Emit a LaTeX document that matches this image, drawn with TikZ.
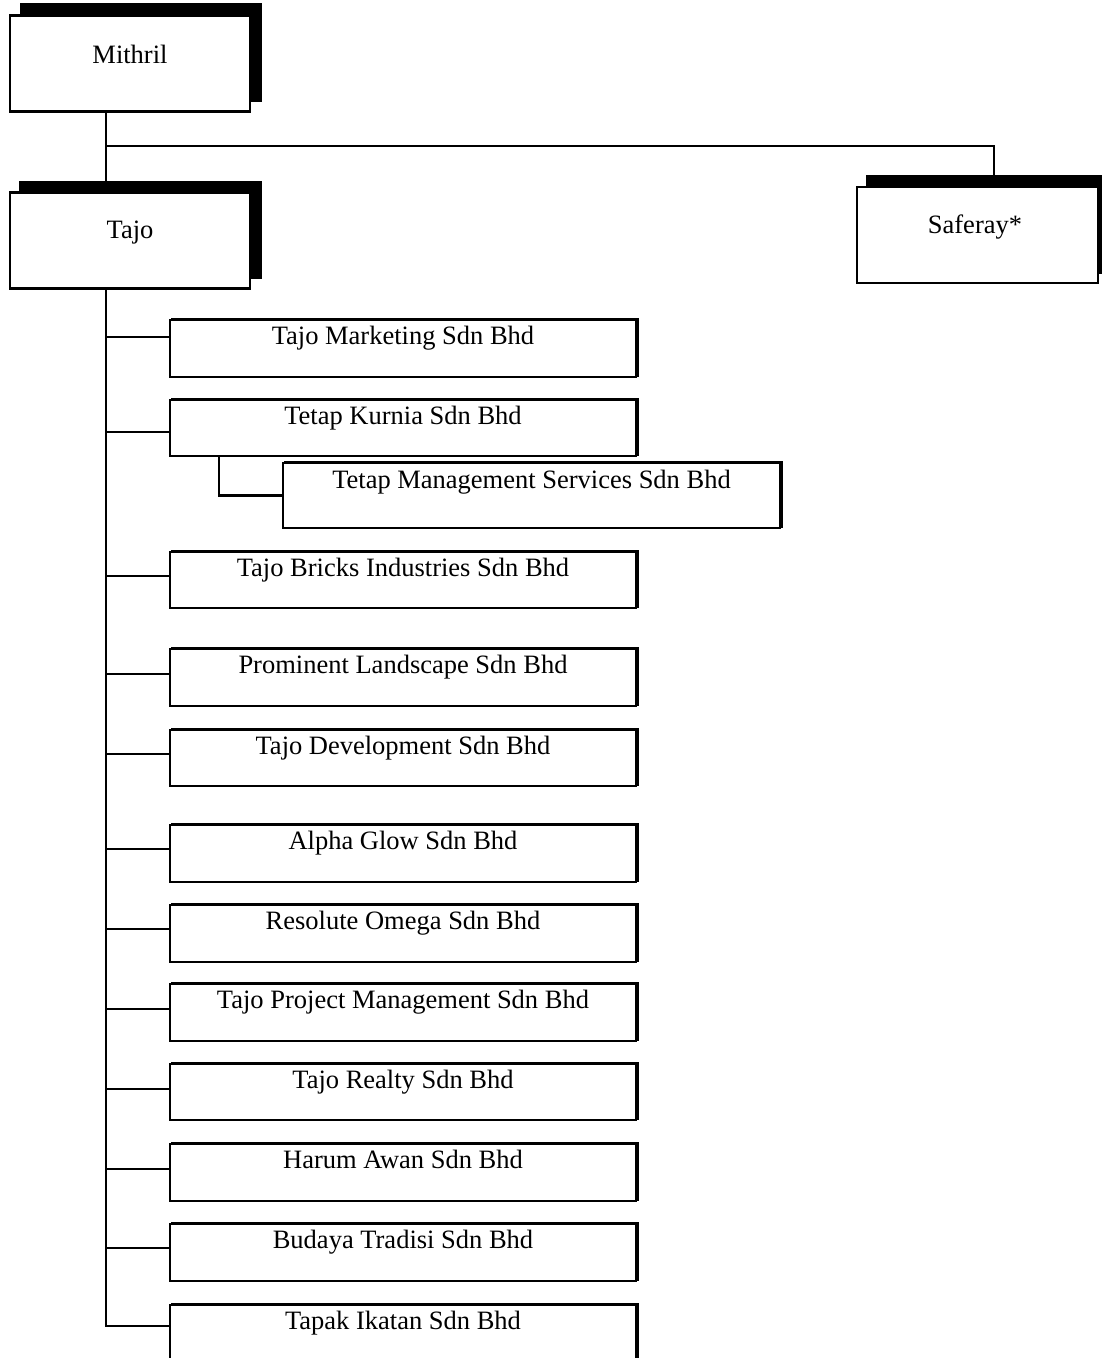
\documentclass[tikz,border=0pt]{standalone}
\usepackage{fontspec}
\setmainfont{Liberation Serif}
\usetikzlibrary{shadows}
\tikzset{
  bigbox/.style={draw, line width=2.2pt, fill=white, inner sep=0pt,
    minimum width=240pt, minimum height=96pt},
  bigshadow/.style={general shadow={fill=black, draw=black, line width=2.2pt,
    shadow xshift=#1, shadow yshift=#1}},
  subbox/.style={draw, line width=2pt, fill=white, inner sep=0pt,
    minimum width=466pt, minimum height=57pt,
    general shadow={fill=black, draw=black, line width=2pt,
    shadow xshift=1.5pt, shadow yshift=1.5pt}},
  lbl/.style={inner sep=0pt, anchor=base, font=\fontsize{26.5}{30}\selectfont},
  conn/.style={line width=2.2pt},
}
\begin{document}
\begin{tikzpicture}[x=1pt, y=-1pt]
\useasboundingbox (0,0) rectangle (1102,1358);
\fill[white] (0,0) rectangle (1102,1358);

% helper coordinates
\coordinate (tx) at (106,0);
\coordinate (sx) at (994,0);
\coordinate (kx) at (219,0);

% top-level boxes
\node[bigbox, bigshadow=11pt] (mithril) at (130,63.5) {};
\node[lbl] (tmithril) at (130,63) {Mithril};
\node[bigbox, bigshadow=10.5pt] (tajo) at (130,240.5) {};
\node[lbl] (ttajo) at (130,238) {Tajo};
\node[bigbox, minimum width=241pt, bigshadow=10.5pt] (saferay) at (977.5,235) {};
\node[lbl] (tsaferay) at (975,233) {Saferay*};

% connectors top level
\coordinate (jm) at (106,146);
\coordinate (sftop) at ([yshift=10.5pt]saferay.north -| sx);
\draw[conn] (mithril.south -| tx) -- (jm) -- (tajo.north -| tx);
\draw[conn] (jm) -| (sftop);

% subsidiaries
\node[subbox] (b1) at (403,348.5) {};
\node[lbl] (t1) at ([yshift=-25pt]b1.north) {Tajo Marketing Sdn Bhd};
\node[subbox, minimum height=56pt] (b2) at (403,428) {};
\node[lbl] (t2) at ([yshift=-25pt]b2.north) {Tetap Kurnia Sdn Bhd};
\node[subbox, minimum width=497pt, minimum height=65pt] (b3) at (531.5,495.5) {};
\node[lbl] (t3) at ([yshift=-26pt]b3.north) {Tetap Management Services Sdn Bhd};
\node[subbox, minimum height=56pt] (b4) at (403,580) {};
\node[lbl] (t4) at ([yshift=-25pt]b4.north) {Tajo Bricks Industries Sdn Bhd};
\node[subbox] (b5) at (403,677.5) {};
\node[lbl] (t5) at ([yshift=-25pt]b5.north) {Prominent Landscape Sdn Bhd};
\node[subbox, minimum height=56pt] (b6) at (403,758) {};
\node[lbl] (t6) at ([yshift=-25pt]b6.north) {Tajo Development Sdn Bhd};
\node[subbox] (b7) at (403,853.5) {};
\node[lbl] (t7) at ([yshift=-25pt]b7.north) {Alpha Glow Sdn Bhd};
\node[subbox] (b8) at (403,933.5) {};
\node[lbl] (t8) at ([yshift=-25pt]b8.north) {Resolute Omega Sdn Bhd};
\node[subbox] (b9) at (403,1012.5) {};
\node[lbl] (t9) at ([yshift=-25pt]b9.north) {Tajo Project Management Sdn Bhd};
\node[subbox, minimum height=56pt] (b10) at (403,1092) {};
\node[lbl] (t10) at ([yshift=-25pt]b10.north) {Tajo Realty Sdn Bhd};
\node[subbox] (b11) at (403,1172.5) {};
\node[lbl] (t11) at ([yshift=-25pt]b11.north) {Harum Awan Sdn Bhd};
\node[subbox] (b12) at (403,1252.5) {};
\node[lbl] (t12) at ([yshift=-25pt]b12.north) {Budaya Tradisi Sdn Bhd};
\node[subbox, minimum height=62pt] (b13) at (403,1336) {};
\node[lbl] (t13) at ([yshift=-25pt]b13.north) {Tapak Ikatan Sdn Bhd};

% trunk and branches
\coordinate (j1) at (106,337);
\coordinate (j2) at (106,432);
\coordinate (j4) at (106,576);
\coordinate (j5) at (106,674);
\coordinate (j6) at (106,754);
\coordinate (j7) at (106,849);
\coordinate (j8) at (106,929);
\coordinate (j9) at (106,1009);
\coordinate (j10) at (106,1089);
\coordinate (j11) at (106,1169);
\coordinate (j12) at (106,1248);
\coordinate (j13) at (106,1326);
\draw[conn] (tajo.south -| tx) -- (j13) -- (j13 -| b13.west);
\foreach \j/\b in {j1/b1, j2/b2, j4/b4, j5/b5, j6/b6, j7/b7, j8/b8, j9/b9, j10/b10, j11/b11, j12/b12}
  \draw[conn] (\j) -- (\j -| \b.west);
\draw[conn] (b2.south -| kx) |- (b3.west);
\end{tikzpicture}
\end{document}
